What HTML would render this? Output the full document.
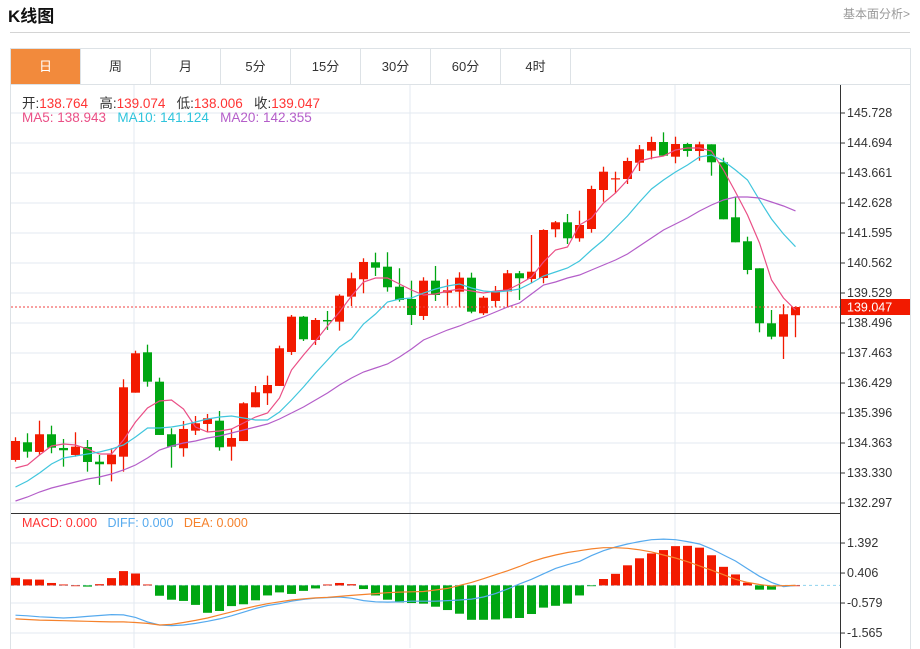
<!DOCTYPE html>
<html><head><meta charset="utf-8">
<style>
body{margin:0;width:920px;height:648px;background:#fff;font-family:"Liberation Sans","Noto Sans CJK SC",sans-serif;overflow:hidden;position:relative}
.title{position:absolute;left:8px;top:2px;font-size:17px;font-weight:bold;color:#111}
.more{position:absolute;right:10px;top:5px;font-size:12px;color:#999}
.hline{position:absolute;left:10px;top:32px;width:900px;height:1px;background:#d4d4d4}
.box{position:absolute;left:10px;top:48px;width:899px;height:600px;border:1px solid #dde2e6;border-bottom:none}
.tabs{position:absolute;left:11px;top:49px;height:35px;display:flex}
.tab{width:69px;height:35px;border-right:1px solid #dde2e6;text-align:center;line-height:35px;font-size:13px;color:#333}
.tab.on{background:#f28a3c;color:#fff}
svg{position:absolute;left:0;top:0}
</style></head><body>
<div class="title">K线图</div>
<div class="more">基本面分析&gt;</div>
<div class="hline"></div>
<div class="box"></div>
<div class="tabs">
<div class="tab on">日</div>
<div class="tab">周</div>
<div class="tab">月</div>
<div class="tab">5分</div>
<div class="tab">15分</div>
<div class="tab">30分</div>
<div class="tab">60分</div>
<div class="tab">4时</div>
</div>
<svg id="chart" width="920" height="648"></svg>
<script>
const opens=[133.779,134.388,134.054,134.664,134.192,133.951,134.226,133.720,133.631,133.892,136.096,137.487,136.475,134.664,134.182,134.788,135.019,135.132,134.237,134.430,135.594,136.076,136.328,137.498,138.714,137.912,138.600,138.542,139.403,140.002,140.587,140.436,139.747,139.323,138.738,139.954,139.540,139.575,140.057,138.831,139.255,139.582,140.209,140.012,140.046,141.723,141.964,141.413,141.733,143.076,143.45,143.455,144.016,144.430,144.729,144.223,144.660,144.419,144.650,144.030,142.136,141.310,140.380,138.486,138.025,138.764];
const closes=[134.433,134.065,134.664,134.202,134.113,134.237,133.710,133.631,133.961,136.282,137.453,136.475,134.640,134.237,134.847,135.043,135.215,134.216,134.536,135.731,136.110,136.361,137.626,138.714,137.936,138.600,138.549,139.437,140.036,140.598,140.401,139.726,139.289,138.772,139.954,139.461,139.623,140.057,138.886,139.368,139.599,140.209,140.036,140.263,141.699,141.964,141.413,141.871,143.111,143.707,143.48,144.075,144.478,144.729,144.258,144.660,144.419,144.650,144.030,142.067,141.275,140.322,138.486,138.025,138.797,139.047];
const highs=[134.561,134.698,135.132,134.960,134.502,134.733,134.467,133.951,134.182,136.558,137.542,137.750,136.613,134.870,135.122,135.294,135.363,135.466,134.847,135.766,136.327,136.682,137.715,138.772,138.738,138.669,138.910,139.485,140.229,140.725,140.918,140.932,140.381,139.954,140.071,140.460,140.002,140.243,140.229,139.427,139.771,140.322,140.288,141.527,141.723,142.009,142.250,142.364,143.224,143.879,143.707,144.189,144.626,144.912,145.062,144.912,144.701,144.739,144.650,144.189,142.825,141.468,140.380,138.944,139.141,139.074];
const lows=[133.720,133.858,133.951,134.010,133.548,133.892,133.376,132.921,133.042,133.376,136.096,136.303,134.640,133.514,133.892,134.640,134.753,134.099,133.755,134.430,135.594,135.673,136.328,137.395,137.877,137.739,138.256,138.232,139.082,139.520,140.115,139.575,139.230,138.428,138.600,139.255,139.093,139.058,138.831,138.772,139.058,139.048,139.289,139.864,139.864,141.448,141.217,141.296,141.606,142.673,142.963,143.283,143.731,144.133,144.258,143.996,144.223,144.085,143.569,142.067,141.275,140.174,138.176,137.935,137.257,138.006];
const ma5=[133.503,133.607,133.951,134.261,134.330,134.295,134.158,133.985,133.985,134.468,135.087,135.570,135.811,135.845,135.535,134.915,134.743,134.778,134.846,135.053,135.260,135.397,135.914,136.878,137.395,137.877,138.393,138.875,139.426,139.908,140.046,140.046,139.839,139.633,139.461,139.495,139.598,139.667,139.598,139.530,139.598,139.633,139.839,140.081,140.597,141.010,141.114,141.871,142.112,142.629,142.973,143.421,144.075,144.178,144.247,144.454,144.523,144.523,144.419,143.765,143.007,142.215,141.251,139.977,139.357,138.943];
const ma10=[132.849,133.056,133.331,133.641,133.848,133.917,133.985,134.054,134.158,134.295,134.571,134.881,134.881,134.915,134.984,135.087,135.191,135.260,135.294,135.225,135.156,135.156,135.432,135.845,136.293,136.775,137.222,137.670,137.946,138.462,138.806,139.220,139.323,139.357,139.530,139.667,139.771,139.839,139.702,139.598,139.564,139.598,139.667,139.874,140.115,140.253,140.390,140.631,141.010,141.355,141.768,142.181,142.663,143.111,143.421,143.696,143.937,144.213,144.282,144.075,143.765,143.421,142.732,142.078,141.561,141.124];
const ma20=[132.367,132.505,132.677,132.815,132.918,133.021,133.125,133.194,133.297,133.435,133.607,133.848,134.123,134.261,134.364,134.433,134.536,134.605,134.709,134.812,134.915,135.019,135.191,135.397,135.604,135.845,136.086,136.362,136.603,136.809,136.947,137.085,137.326,137.601,137.911,138.083,138.255,138.393,138.565,138.703,138.875,139.047,139.185,139.495,139.805,139.908,140.046,140.149,140.322,140.494,140.666,140.873,141.148,141.423,141.699,141.906,142.112,142.353,142.560,142.732,142.835,142.835,142.801,142.663,142.525,142.355];
const macd=[0.25,0.2,0.19,0.08,0.03,0.0,-0.04,0.04,0.24,0.47,0.39,0.03,-0.34,-0.47,-0.51,-0.64,-0.9,-0.84,-0.68,-0.62,-0.49,-0.33,-0.23,-0.28,-0.18,-0.1,0.03,0.08,0.04,-0.12,-0.33,-0.47,-0.56,-0.58,-0.6,-0.70,-0.81,-0.93,-1.13,-1.13,-1.12,-1.08,-1.07,-0.94,-0.73,-0.67,-0.60,-0.33,-0.01,0.21,0.38,0.66,0.89,1.05,1.16,1.29,1.30,1.24,0.99,0.61,0.36,0.09,-0.14,-0.14,0.0,0.0];
const diff=[-0.98,-1.0,-1.03,-1.05,-1.07,-1.05,-1.02,-0.99,-0.96,-0.97,-1.05,-1.2,-1.3,-1.32,-1.3,-1.25,-1.18,-1.1,-1.0,-0.88,-0.76,-0.66,-0.6,-0.52,-0.46,-0.42,-0.4,-0.38,-0.42,-0.5,-0.54,-0.55,-0.54,-0.52,-0.52,-0.52,-0.5,-0.48,-0.45,-0.38,-0.27,-0.12,0.05,0.2,0.38,0.56,0.68,0.79,0.98,1.14,1.26,1.36,1.44,1.5,1.52,1.5,1.44,1.36,1.2,1.0,0.8,0.55,0.3,0.1,-0.04,0.0];
const dea=[-1.1,-1.12,-1.14,-1.15,-1.16,-1.17,-1.18,-1.19,-1.2,-1.2,-1.22,-1.25,-1.3,-1.28,-1.22,-1.15,-1.07,-0.97,-0.87,-0.77,-0.68,-0.6,-0.54,-0.48,-0.44,-0.41,-0.39,-0.36,-0.33,-0.3,-0.27,-0.24,-0.22,-0.21,-0.2,-0.15,-0.1,0.0,0.1,0.22,0.35,0.48,0.62,0.78,0.9,1.0,1.08,1.14,1.2,1.24,1.24,1.22,1.17,1.1,1.0,0.9,0.78,0.64,0.5,0.35,0.2,0.1,0.03,-0.02,-0.01,0.0];
const priceTicks=[145.728,144.694,143.661,142.628,141.595,140.562,139.529,138.496,137.463,136.429,135.396,134.363,133.330,132.297];
const macdTicks=[1.392,0.406,-0.579,-1.565];
const lastPrice=139.047;

const NS='http://www.w3.org/2000/svg';
const svg=document.getElementById('chart');
function el(t,a,p){const e=document.createElementNS(NS,t);for(const k in a)e.setAttribute(k,a[k]);(p||svg).appendChild(e);return e;}
const xOf=i=>15.5+12*i;
const yP=p=>113+(145.728-p)*(390/13.431);
const yM=v=>585.4-v*30.44;
const RED='#f21a00',GREEN='#00a612';

const grid=el('g',{});


priceTicks.forEach(t=>{const y=yP(t);el('line',{x1:11,x2:840,y1:y,y2:y,stroke:'#e3eaf0'},grid);});
macdTicks.forEach(t=>{const y=yM(t);el('line',{x1:11,x2:840,y1:y,y2:y,stroke:'#e3eaf0'},grid);});
[134,410,675].forEach(x=>el('line',{x1:x,x2:x,y1:85,y2:648,stroke:'#e3eaf0'},grid));
el('line',{x1:11,x2:910,y1:84.5,y2:84.5,stroke:'#dde2e6'});
el('line',{x1:840.5,x2:840.5,y1:85,y2:648,stroke:'#333'});
el('line',{x1:11,x2:840,y1:513.5,y2:513.5,stroke:'#333'});

const ax=el('g',{'font-size':'12.5','fill':'#333'});


priceTicks.forEach(t=>{const y=yP(t);el('line',{x1:840,x2:845,y1:y,y2:y,stroke:'#333'},ax);const tx=el('text',{x:847,y:y+4},ax);tx.textContent=t.toFixed(3);});
macdTicks.forEach(t=>{const y=yM(t);el('line',{x1:840,x2:845,y1:y,y2:y,stroke:'#333'},ax);const tx=el('text',{x:847,y:y+4},ax);tx.textContent=t.toFixed(3);});

const cg=el('g',{});


opens.forEach((o,i)=>{
  const c=closes[i],x=xOf(i),col=c>=o?RED:GREEN;
  const g=el('g',{},cg);
  
  
  el('line',{x1:x,x2:x,y1:yP(highs[i]),y2:yP(lows[i]),stroke:col,'stroke-width':1.3},g);
  const t=yP(Math.max(o,c)),b=yP(Math.min(o,c));
  el('rect',{x:x-4.5,y:t,width:9,height:Math.max(1.2,b-t),fill:col},g);
});

function line(arr,yf,color,name){
  const p=el('polyline',{points:arr.map((v,i)=>xOf(i)+','+yf(v).toFixed(1)).join(' '),fill:'none',stroke:color,'stroke-width':1.2});
  
  
}
line(ma5,yP,'#ea4f86','ma5-line');
line(ma10,yP,'#41c6dd','ma10-line');
line(ma20,yP,'#b45ec9','ma20-line');

const ly=yP(lastPrice);
const ll=el('line',{x1:11,x2:840,y1:ly,y2:ly,stroke:'#f04040','stroke-dasharray':'2,2'});


const tag=el('rect',{x:841,y:ly-8,width:69,height:16,fill:'#f21a00'});


const tt=el('text',{x:847,y:ly+4.5,'font-size':'12.5',fill:'#fff'});tt.textContent=lastPrice.toFixed(3);

const zl=el('line',{x1:11,x2:840,y1:yM(0),y2:yM(0),stroke:'#8fd3ee','stroke-dasharray':'3,3'});
const mg=el('g',{});


macd.forEach((v,i)=>{
  const y0=yM(0),y1=yM(v);
  const r=el('rect',{x:xOf(i)-4.5,y:Math.min(y0,y1),width:9,height:Math.max(0.8,Math.abs(y1-y0)),fill:v>=0?RED:GREEN},mg);
  
  
});
line(diff,yM,'#56aaee','diff-line');
line(dea,yM,'#f5822c','dea-line');
</script>
<div style="position:absolute;left:22px;top:92px;font-size:13.5px;color:#333;white-space:nowrap">开:<span style="color:#f33">138.764</span>&nbsp;&nbsp; 高:<span style="color:#f33">139.074</span>&nbsp;&nbsp; 低:<span style="color:#f33">138.006</span>&nbsp;&nbsp; 收:<span style="color:#f33">139.047</span></div>
<div style="position:absolute;left:22px;top:110px;font-size:13.5px;white-space:nowrap"><span style="color:#ea4f86">MA5: 138.943</span>&nbsp;&nbsp; <span style="color:#2fc4dc">MA10: 141.124</span>&nbsp;&nbsp; <span style="color:#b45ec9">MA20: 142.355</span></div>
<div style="position:absolute;left:22px;top:516px;font-size:12.5px;white-space:nowrap"><span style="color:#f33">MACD: 0.000</span>&nbsp;&nbsp; <span style="color:#56aaee">DIFF: 0.000</span>&nbsp;&nbsp; <span style="color:#f5822c">DEA: 0.000</span></div>
</body></html>
